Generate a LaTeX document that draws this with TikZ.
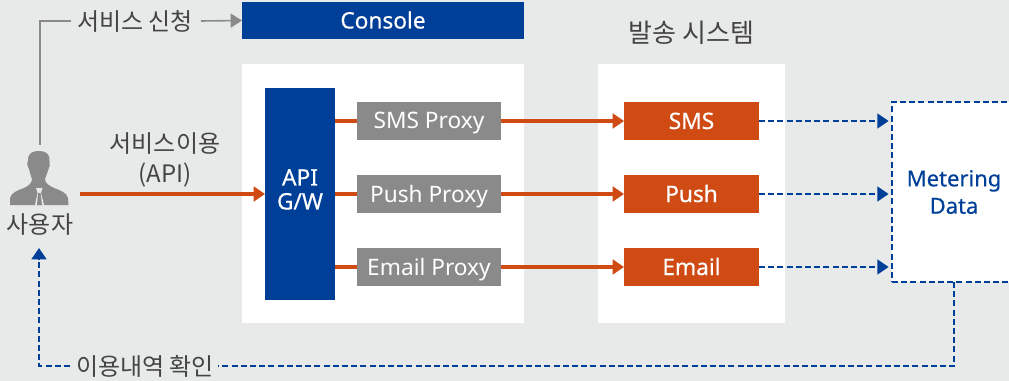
\documentclass[tikz,border=0pt]{standalone}
\usepackage{fontspec}
\setmainfont{Noto Sans CJK KR}
\newfontfamily\latinreg{Noto Sans}
\newfontfamily\latinmed[FakeBold=0.45]{Noto Sans}
\usetikzlibrary{arrows.meta}
\definecolor{bgc}{HTML}{E8EAEA}
\definecolor{navy}{HTML}{003F98}
\definecolor{rust}{HTML}{D04B14}
\definecolor{midgray}{HTML}{8A8A8A}
\definecolor{txt}{HTML}{444444}
\tikzset{
  x=0.75pt,y=-0.75pt,
  box/.style={rectangle,inner sep=0pt,outer sep=0pt,draw=none,text=white,align=center},
  proxybox/.style={box,fill=midgray,minimum width=108pt,minimum height=28.5pt,text height=14pt,text depth=2pt,font=\latinreg\fontsize{17}{21}\selectfont},
  sendbox/.style={box,fill=rust,minimum width=101.25pt,minimum height=28.5pt,text height=14pt,text depth=2pt,font=\latinmed\fontsize{17}{21}\selectfont},
  panel/.style={rectangle,fill=white,inner sep=0pt,outer sep=0pt},
  lbl/.style={text=txt,font=\fontsize{18}{23}\selectfont,align=center,inner sep=0pt,outer sep=0pt},
  rustline/.style={draw=rust,line width=2.4pt},
  rustarrow/.style={rustline,-{Triangle[length=8.5pt,width=11pt]}},
  navydash/.style={draw=navy,line width=1.9pt,dash pattern=on 4.5pt off 2.4pt},
  navyarrow/.style={navydash,-{Triangle[length=8.5pt,width=11pt]}},
  grayline/.style={draw=midgray,line width=1.2pt},
}
\begin{document}
\begin{tikzpicture}
\useasboundingbox (0,0) rectangle (1009,381);
\fill[bgc] (0,0) rectangle (1009,381);
% panels
\node[panel,minimum width=211.5pt,minimum height=194.25pt] (panelA) at (383,193.5) {};
\node[panel,minimum width=140.25pt,minimum height=194.25pt] (panelB) at (691.5,193.5) {};
\node[box,fill=navy,minimum width=211.5pt,minimum height=27.75pt,text height=14pt,text depth=2pt,font=\latinmed\fontsize{17}{21}\selectfont] (console) at (383,20.5) {Console};
\node[box,fill=navy,minimum width=52.5pt,minimum height=159pt,text depth=7pt,font=\latinmed\fontsize{17}{18}\selectfont] (api) at (300,194) {API\\G/W};
% proxies
\node[proxybox] (psms) at (429,121) {SMS Proxy};
\node[proxybox] (ppush) at (429,194) {Push Proxy};
\node[proxybox] (pemail) at (429,267) {Email Proxy};
% senders
\node[sendbox] (ssms) at (691.5,121) {SMS};
\node[sendbox] (spush) at (691.5,194) {Push};
\node[sendbox] (semail) at (691.5,267) {Email};
% metering
\node[rectangle,fill=white,inner sep=0pt,outer sep=0pt,minimum width=93pt,minimum height=135pt,
  navydash,text=navy,align=center,font=\latinmed\fontsize{16.5}{20.5}\selectfont] (meter) at (954,192) {Metering\\Data};
% labels
\node[lbl,font=\fontsize{19.5}{23}\selectfont] (title) at (691.5,33) {발송 시스템};
\node[lbl] (apply) at (135,21) {서비스 신청};
\node[lbl,text width=120pt] (useapi) at (165,160) {서비스이용\\(API)};
\node[lbl] (history) at (145,366) {이용내역 확인};
\node[lbl] (userlbl) at (40,225) {사용자};
% person
\node[inner sep=0pt,outer sep=0pt,minimum width=44pt,minimum height=42pt] (person) at (39.5,178) {};
\fill[midgray] (28,160) .. controls (28,153) and (33,151) .. (38.5,151) .. controls (45,151) and (50,153) .. (49.5,161)
  .. controls (50,164) and (50,167) .. (48.5,169) .. controls (47,174) and (45,178) .. (45,180)
  .. controls (46,184) and (50,186) .. (54,188) .. controls (60,190) and (67,193) .. (68,198) -- (68.5,205) -- (10,205) -- (10,198)
  .. controls (11,193) and (18,190) .. (24,188) .. controls (28,186) and (31,184) .. (32,180)
  .. controls (32,178) and (30,174) .. (29,169) .. controls (27,167) and (27,164) .. (28,160) -- cycle;
\fill[bgc] (36,188) -- (42.5,188) -- (41,193) -- (44,205) -- (35,205) -- (37.5,193) -- cycle;
\fill[midgray] (38,193) -- (40.5,193) -- (42,205) -- (37,205) -- cycle;
% connector ends
\coordinate (applyL) at (71,21);
\coordinate (applyR) at (201,21);
\coordinate (corner1) at (40,21);
\coordinate (userout) at (80,194);
\coordinate (histR) at (218,366);
\coordinate (histL) at (70,366);
\coordinate (corner2) at (954,366);
\coordinate (corner3) at (39,366);
\coordinate (userin) at (39,248);
% connectors
\draw[grayline] (40,145) -- (corner1) -- (applyL);
\draw[grayline,-{Triangle[length=8.5pt,width=10.5pt]}] (applyR) -- (console.west);
\draw[rustarrow] (userout) -- (api.west |- userout);
\foreach \a/\b/\c in {psms/ssms/121,ppush/spush/194,pemail/semail/267}{
  \draw[rustline] (api.east |- \a.west) -- (\a.west);
  \draw[rustarrow] (\a.east) -- (\b.west);
}
\foreach \s in {ssms,spush,semail}{
  \draw[navyarrow] (\s.east) -- ([xshift=-2.5pt]meter.west |- \s.east);
}
\draw[navydash] (meter.south) -- (corner2) -- (histR);
\draw[navyarrow] (histL) -- (corner3) -- (userin);
\end{tikzpicture}
\end{document}
